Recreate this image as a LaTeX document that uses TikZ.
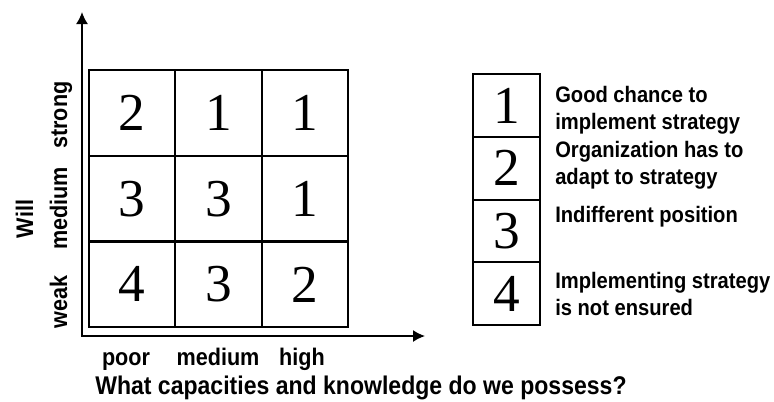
\documentclass[tikz,border=0pt]{standalone}
\usepackage{fontspec}
\setmainfont{Liberation Sans}[FakeStretch=0.9]
\newfontfamily\numfont{Liberation Serif}
\usetikzlibrary{arrows.meta}

\tikzset{
  cell/.style={draw, line width=1.6pt, minimum width=64.7pt, minimum height=64.3pt,
    inner sep=0pt, font=\numfont\fontsize{40}{40}\selectfont},
  keybox/.style={draw, line width=1.4pt, minimum width=50.25pt, minimum height=47pt,
    inner sep=0pt, font=\numfont\fontsize{40}{40}\selectfont},
  keytext/.style={anchor=base west, inner sep=0pt, font=\bfseries\fontsize{16.8}{18}\selectfont},
  axislabel/.style={anchor=base, inner sep=0pt, font=\bfseries\fontsize{18}{20}\selectfont},
  axis/.style={line width=1.2pt, {Latex[length=9pt,width=9pt]}-{Latex[length=9pt,width=9pt]}}
}

\begin{document}
\begin{tikzpicture}[x=0.75pt,y=-0.75pt]
\useasboundingbox (0,0) rectangle (774,401);

% axes
\coordinate (origin) at (82,336);
\coordinate (ytip) at (82,12);
\coordinate (xtip) at (425,336);
\draw[axis] (ytip) -- (origin) -- (xtip);

% rating matrix
\node[cell] (c11) at (132.2,113) {2};
\node[cell] (c12) at (218.5,113) {1};
\node[cell] (c13) at (304.8,113) {1};
\node[cell] (c21) at (132.2,198.7) {3};
\node[cell] (c22) at (218.5,198.7) {3};
\node[cell] (c23) at (304.8,198.7) {1};
\node[cell] (c31) at (132.2,284.4) {4};
\node[cell] (c32) at (218.5,284.4) {3};
\node[cell] (c33) at (304.8,284.4) {2};

% axis labels
\node[axislabel, rotate=90] (strong) at (67,115) {strong};
\node[axislabel, rotate=90] (willmed) at (67,208.5) {medium};
\node[axislabel, rotate=90] (weak) at (67,302) {weak};
\node[axislabel, rotate=90] (will) at (33,219) {Will};

\node[axislabel] (poor) at (126,365) {poor};
\node[axislabel] (capmed) at (218,365) {medium};
\node[axislabel] (high) at (302,365) {high};
\node[axislabel, anchor=base west, font=\bfseries\fontsize{19.2}{20}\selectfont] (title) at (95,394)
  {What capacities and knowledge do we possess?};

% key
\node[keybox] (k1) at (506.5,105.5) {1};
\node[keybox] (k2) at (506.5,168.3) {2};
\node[keybox] (k3) at (506.5,231) {3};
\node[keybox] (k4) at (506.5,293.5) {4};

\node[keytext] (t1a) at (555,102) {Good chance to};
\node[keytext] (t1b) at (555,129) {implement strategy};
\node[keytext] (t2a) at (555,157) {Organization has to};
\node[keytext] (t2b) at (555,184) {adapt to strategy};
\node[keytext] (t3) at (555,222) {Indifferent position};
\node[keytext] (t4a) at (555,288) {Implementing strategy};
\node[keytext] (t4b) at (555,315) {is not ensured};
\end{tikzpicture}
\end{document}
